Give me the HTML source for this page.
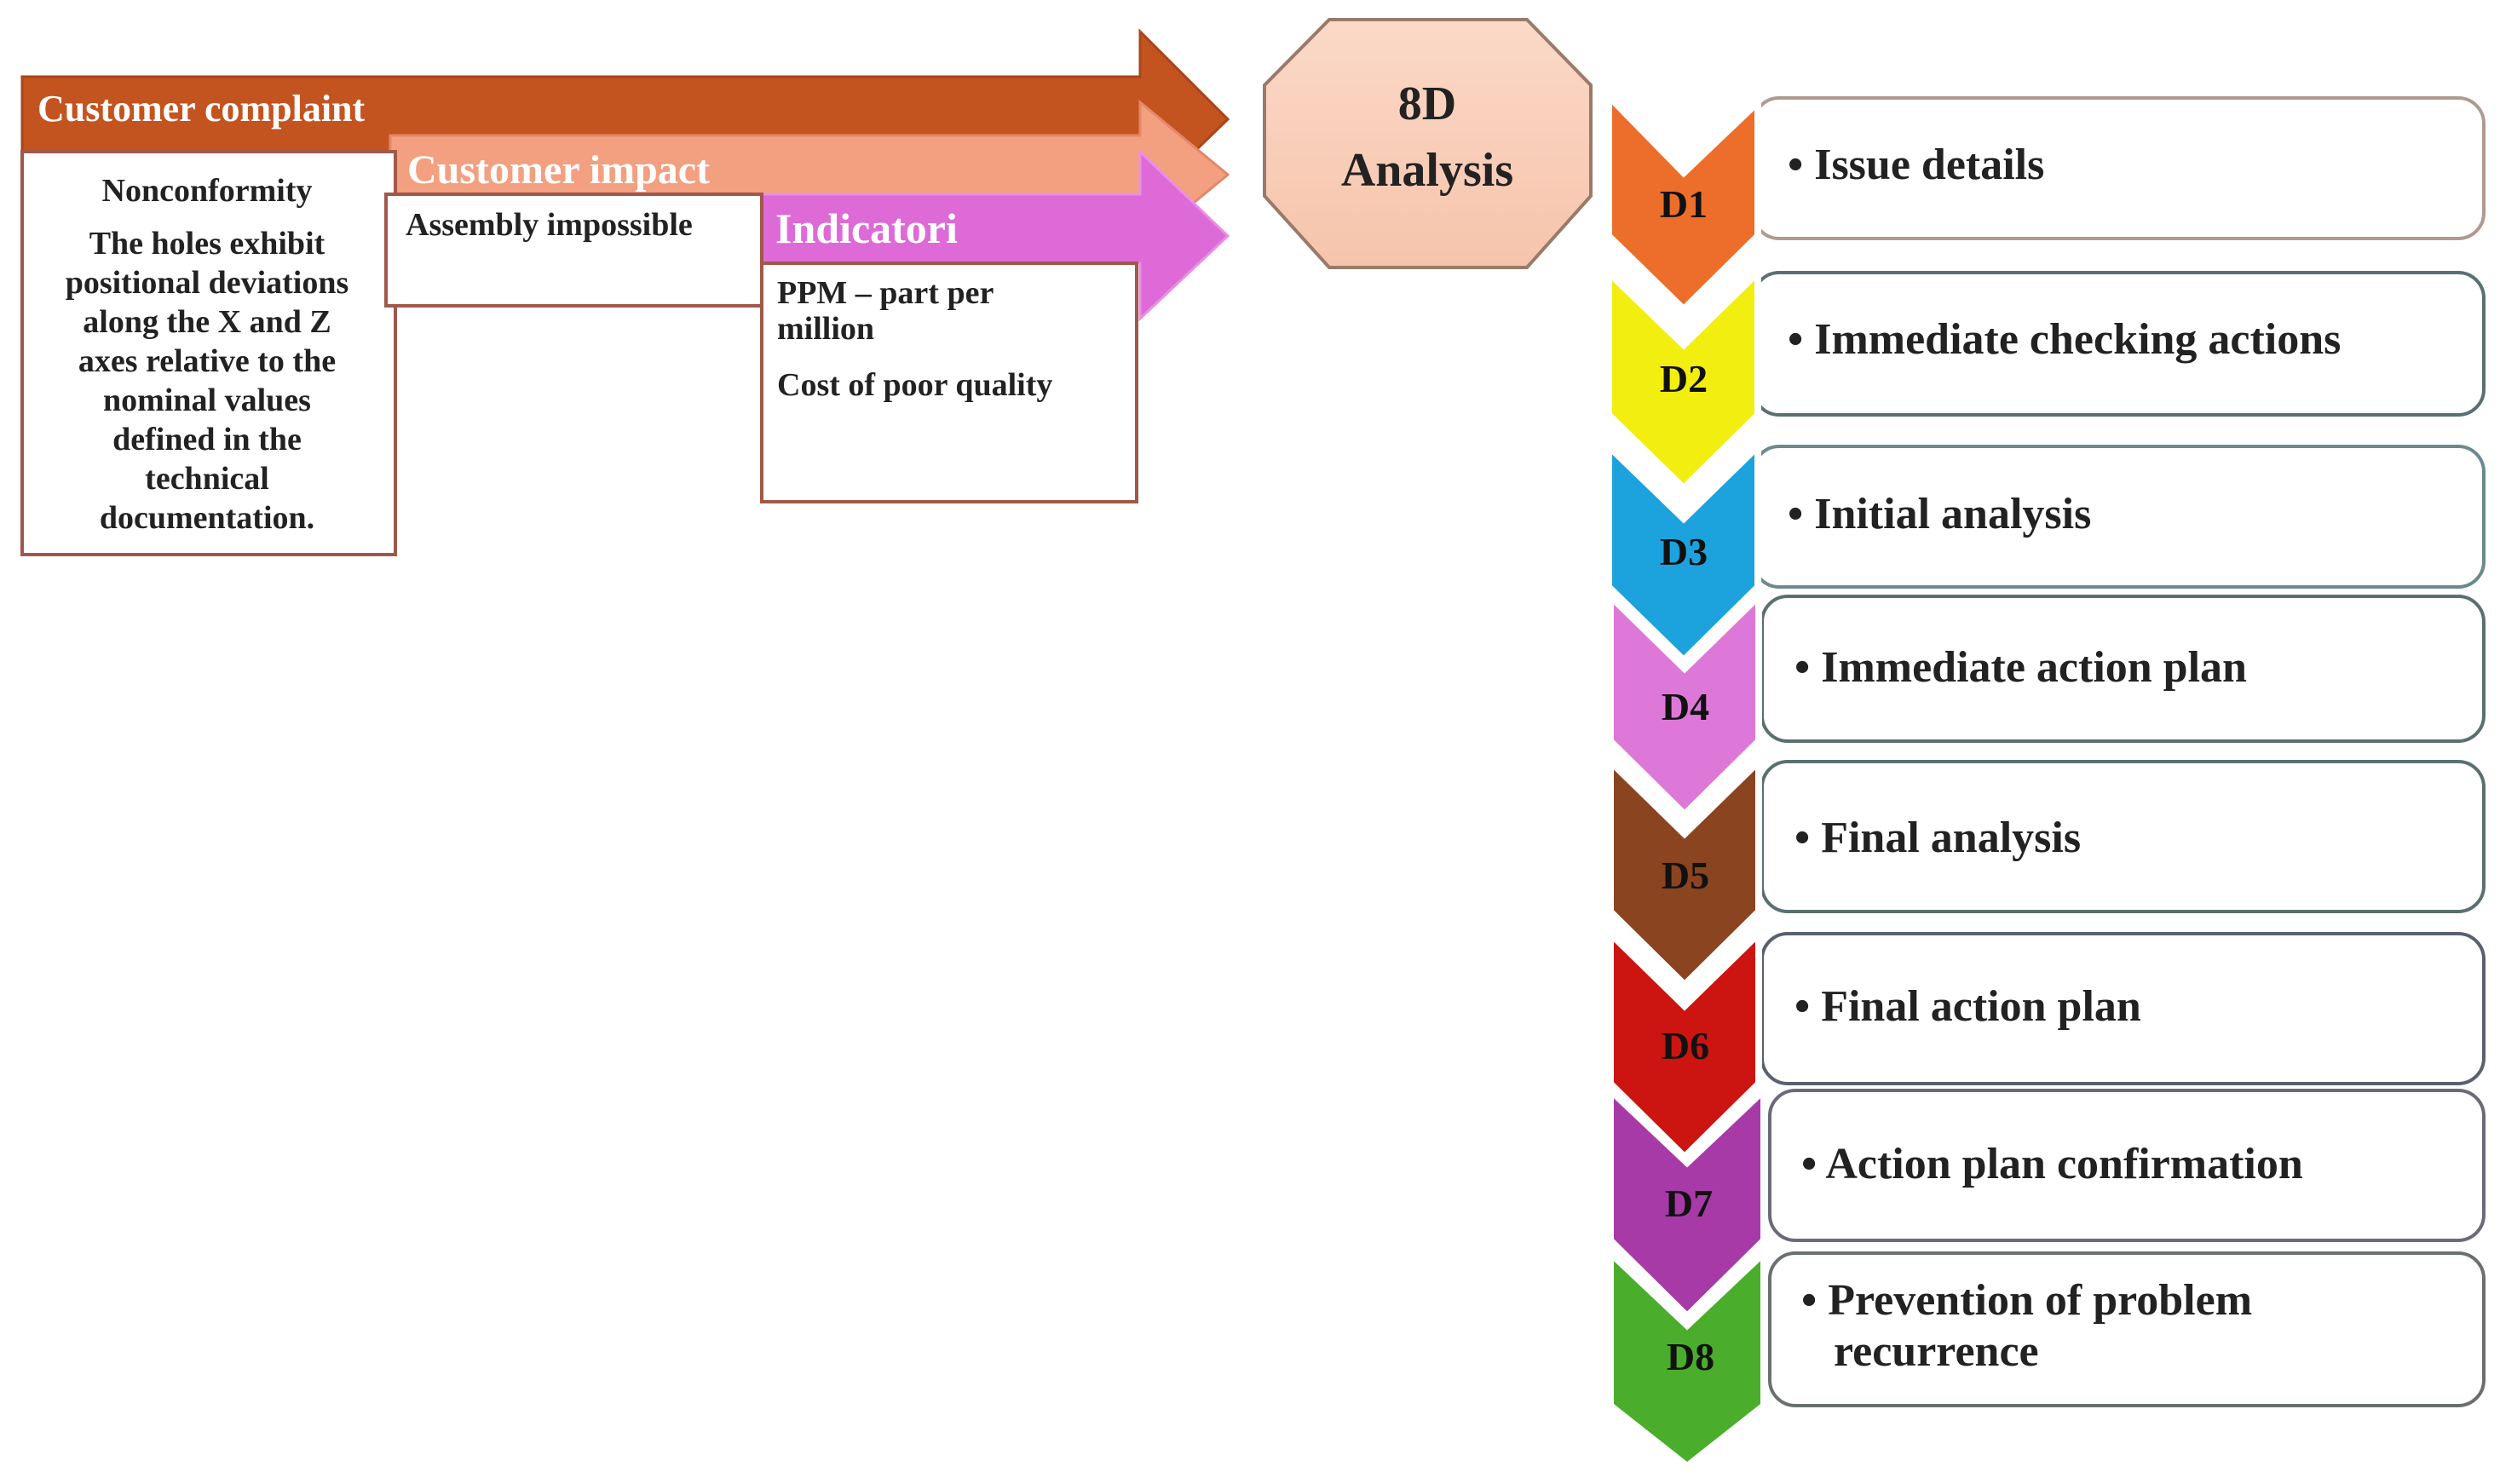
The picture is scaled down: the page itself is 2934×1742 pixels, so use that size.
<!DOCTYPE html>
<html><head><meta charset="utf-8"><style>
html,body{margin:0;padding:0;background:#fff;}
svg{display:block;}
text{font-family:"Liberation Serif",serif;font-weight:bold;}
</style></head><body>
<svg width="2934" height="1742" viewBox="0 0 2934 1742" xmlns="http://www.w3.org/2000/svg">
<defs>
<linearGradient id="oct" x1="0" y1="0" x2="0" y2="1"><stop offset="0" stop-color="#fbd9c8"/><stop offset="1" stop-color="#f6c4ab"/></linearGradient>
</defs>
<!-- Customer complaint arrow -->
<polygon points="26,90 1338,90 1338,37 1441,140 1338,240 1338,178 26,178" fill="#c4541f" stroke="#a8461a" stroke-width="3"/>
<text x="44" y="142" font-size="44" fill="#fff">Customer complaint</text>
<!-- Customer impact arrow -->
<polygon points="458,159 1338,159 1338,120 1441,205 1338,290 1338,228 458,228" fill="#f2a080" stroke="#e4876a" stroke-width="3"/>
<text x="478" y="215" font-size="48" fill="#fff">Customer impact</text>
<!-- Indicatori arrow -->
<polygon points="894,228 1338,228 1338,178 1441,277 1338,374 1338,309 894,309" fill="#de6ad8" stroke="#e98fe3" stroke-width="3"/>
<text x="910" y="285" font-size="50" fill="#fff">Indicatori</text>
<!-- Left box -->
<rect x="26" y="178" width="438" height="473" fill="#fff" stroke="#a0584a" stroke-width="4"/>
<g font-size="38" fill="#222" text-anchor="middle">
<text x="243" y="236">Nonconformity</text>
<text x="243" y="298">The holes exhibit</text>
<text x="243" y="344">positional deviations</text>
<text x="243" y="390">along the X and Z</text>
<text x="243" y="436">axes relative to the</text>
<text x="243" y="482">nominal values</text>
<text x="243" y="528">defined in the</text>
<text x="243" y="574">technical</text>
<text x="243" y="620">documentation.</text>
</g>
<!-- Impact box -->
<rect x="453" y="228" width="441" height="131" fill="#fff" stroke="#a0584a" stroke-width="4"/>
<text x="476" y="276" font-size="38" fill="#222">Assembly impossible</text>
<!-- Indicatori box -->
<rect x="894" y="309" width="440" height="280" fill="#fff" stroke="#a0584a" stroke-width="4"/>
<g font-size="38" fill="#222">
<text x="912" y="356">PPM – part per</text>
<text x="912" y="398">million</text>
<text x="912" y="464">Cost of poor quality</text>
</g>
<!-- Octagon -->
<polygon points="1560,23 1792,23 1867,100 1867,230 1792,314 1560,314 1484,230 1484,100" fill="url(#oct)" stroke="#9a7a6a" stroke-width="4"/>
<text x="1675" y="140" font-size="56" fill="#222" text-anchor="middle">8D</text>
<text x="1675" y="218" font-size="56" fill="#222" text-anchor="middle">Analysis</text>

<!-- Right boxes -->
<g fill="#fff" stroke-width="4">
<rect x="2058" y="115" width="857" height="165" rx="30" stroke="#b09a90"/>
<rect x="2058" y="320" width="857" height="167" rx="30" stroke="#5a7070"/>
<rect x="2058" y="524" width="857" height="165" rx="30" stroke="#6a8a90"/>
<rect x="2068" y="700" width="847" height="170" rx="30" stroke="#5a7070"/>
<rect x="2068" y="894" width="847" height="176" rx="30" stroke="#5a7070"/>
<rect x="2068" y="1096" width="847" height="176" rx="30" stroke="#5a6070"/>
<rect x="2077" y="1280" width="838" height="176" rx="30" stroke="#6a6a78"/>
<rect x="2077" y="1471" width="838" height="179" rx="30" stroke="#6a7070"/>
</g>
<g font-size="52" fill="#222">
<text x="2098" y="210">•  Issue details</text>
<text x="2098" y="415">•  Immediate checking actions</text>
<text x="2098" y="620">•  Initial analysis</text>
<text x="2106" y="800">•  Immediate action plan</text>
<text x="2106" y="1000">•  Final analysis</text>
<text x="2106" y="1198">•  Final action plan</text>
<text x="2114" y="1383">•  Action plan confirmation</text>
<text x="2114" y="1543">•  Prevention of problem</text>
<text x="2152" y="1603">recurrence</text>
</g>

<!-- Chevrons, bottom first -->
<g stroke="#fff" stroke-width="8" stroke-linejoin="miter">
<polygon points="1890,1471 1980,1556 2070,1471 2070,1650 1980,1721 1890,1650" fill="#4aad2c"/>
<polygon points="1890,1280 1980,1365 2070,1280 2070,1456 1980,1545 1890,1456" fill="#a83aa8"/>
<polygon points="1890,1096 1977,1181 2064,1096 2064,1272 1977,1358 1890,1272" fill="#cc1410"/>
<polygon points="1890,894 1977,979 2064,894 2064,1070 1977,1156 1890,1070" fill="#8a4420"/>
<polygon points="1890,700 1977,785 2064,700 2064,870 1977,956 1890,870" fill="#de78d8"/>
<polygon points="1888,524 1976,609 2063,524 2063,689 1976,775 1888,689" fill="#1ca2dc"/>
<polygon points="1888,320 1976,405 2063,320 2063,487 1976,573 1888,487" fill="#f2ee10"/>
<polygon points="1888,113 1976,203 2063,120 2063,277 1976,363 1888,277" fill="#ec6e2a"/>
</g>
<g font-size="46" fill="#111" text-anchor="middle">
<text x="1976" y="255">D1</text>
<text x="1976" y="460">D2</text>
<text x="1976" y="663">D3</text>
<text x="1978" y="845">D4</text>
<text x="1978" y="1043">D5</text>
<text x="1978" y="1243">D6</text>
<text x="1982" y="1428">D7</text>
<text x="1984" y="1608">D8</text>
</g>
</svg>
</body></html>
